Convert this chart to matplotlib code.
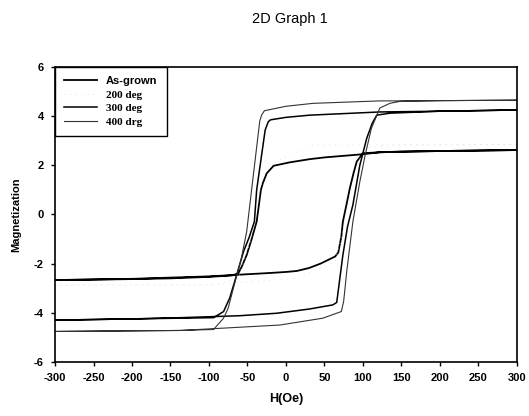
import matplotlib
matplotlib.use("Agg")
from matplotlib import pyplot as plt

plt.rcParams["axes.unicode_minus"] = False

# hysteresis loops: upper branch (+300 -> -300) then lower branch (-300 -> +300)
h_asgrown = [300, 200, 150, 122, 100, 50, 31, 5, -16, -25, -30, -32.5, -38, -45, -51, -57, -62, -70, -100, -150, -200, -300,
             -200, -100, -60, -20, 0, 14, 30, 45, 64, 68, 72, 74, 78, 83, 88, 92, 100, 122, 150, 200, 300]
m_asgrown = [2.62, 2.58, 2.55, 2.53, 2.45, 2.32, 2.25, 2.12, 1.98, 1.67, 1.27, 1.0, -0.29, -1.05, -1.65, -2.1, -2.4, -2.48, -2.54, -2.6, -2.63, -2.67,
             -2.62, -2.52, -2.45, -2.38, -2.34, -2.3, -2.18, -2.0, -1.71, -1.55, -0.9, -0.29, 0.3, 1.06, 1.7, 2.15, 2.49, 2.53, 2.56, 2.58, 2.62]

h_200 = [300, 150, 35, -25, -32, -45, -62, -92, -150, -235, -300,
         -235, -150, -92, 14, 64, 70, 85, 100, 150, 300]
m_200 = [2.85, 2.83, 2.83, 2.0, 1.3, -1.0, -2.6, -2.87, -2.87, -2.87, -2.88,
         -2.87, -2.87, -2.85, -2.6, -1.9, -1.2, 1.0, 2.7, 2.83, 2.85]

h_300 = [300, 200, 122, 31, 0, -20, -23, -27, -38, -41, -48, -55, -64, -73, -81, -94, -137, -200, -300,
         -200, -137, -60, -12, 30, 61, 66, 74, 80, 87, 96, 105, 112, 118, 135, 200, 300]
m_300 = [4.25, 4.2, 4.17, 4.04, 3.95, 3.85, 3.77, 3.43, 1.0, -0.29, -0.95, -1.5, -2.46, -3.4, -3.95, -4.2, -4.22, -4.25, -4.3,
         -4.25, -4.2, -4.12, -4.02, -3.85, -3.68, -3.58, -1.65, -0.5, 0.39, 2.0, 3.1, 3.7, 4.04, 4.12, 4.2, 4.25]

h_400 = [300, 200, 148, 122, 35, 0, -28, -31.6, -34, -44.6, -51, -58, -66, -75, -81, -94, -137, -300,
         -137, -8, 48, 72, 75, 79, 87, 96, 103, 111, 122, 135, 148, 200, 300]
m_400 = [4.65, 4.63, 4.62, 4.62, 4.52, 4.4, 4.22, 4.04, 3.8, 1.0, -0.7, -1.8, -2.73, -3.81, -4.22, -4.68, -4.72, -4.76,
         -4.72, -4.5, -4.22, -3.95, -3.54, -2.32, -0.29, 1.33, 2.42, 3.5, 4.33, 4.52, 4.6, 4.63, 4.65]

labels = ["As-grown", "200 deg", "300 deg", "400 drg"]
x_ticks = list(range(-300, 301, 50))
y_ticks = list(range(-6, 7, 2))

fig = plt.figure(figsize=(5.29, 4.16), dpi=100)
ax = fig.add_axes([0.104, 0.130, 0.873, 0.709])

l1, = ax.plot(h_asgrown, m_asgrown, color="black", lw=1.3)
l2, = ax.plot(h_200, m_200, color="#dddddd", lw=0.6, ls=(0, (1, 6)))
l3, = ax.plot(h_300, m_300, color="black", lw=1.1)
l4, = ax.plot(h_400, m_400, color="#333333", lw=0.8)

ax.set_xlim(-300, 300)
ax.set_ylim(-6, 6)
ax.set_xticks(x_ticks)
ax.set_yticks(y_ticks)
for lab in ax.get_xticklabels() + ax.get_yticklabels():
    lab.set_fontfamily("Liberation Sans")
    lab.set_fontweight("bold")
    lab.set_fontsize(8)
ax.tick_params(direction="out", length=3, width=1, pad=5)
for s in ax.spines.values():
    s.set_linewidth(1.2)

ax.set_xlabel("H(Oe)", fontfamily="Liberation Sans", fontweight="bold", fontsize=9, labelpad=7)
ax.set_ylabel("Magnetization", fontfamily="Liberation Sans", fontweight="bold", fontsize=8, labelpad=9)
fig.text(0.548, 0.955, "2D Graph 1", fontfamily="Liberation Sans", fontsize=10.5, ha="center", va="center")

leg = ax.legend([l1, l2, l3, l4], labels, loc="upper left", bbox_to_anchor=(0.0, 1.0), borderaxespad=0,
                fancybox=False, edgecolor="black", framealpha=1, handlelength=3.0, fontsize=8,
                labelspacing=0.35, borderpad=0.8, handletextpad=0.8)
leg.get_frame().set_linewidth(1.0)
texts = leg.get_texts()
texts[0].set_fontfamily("Liberation Sans")
texts[0].set_fontweight("bold")
for t in texts[1:]:
    t.set_fontfamily("Liberation Serif")
    t.set_fontweight("bold")

fig.savefig("out.png", dpi=100)
